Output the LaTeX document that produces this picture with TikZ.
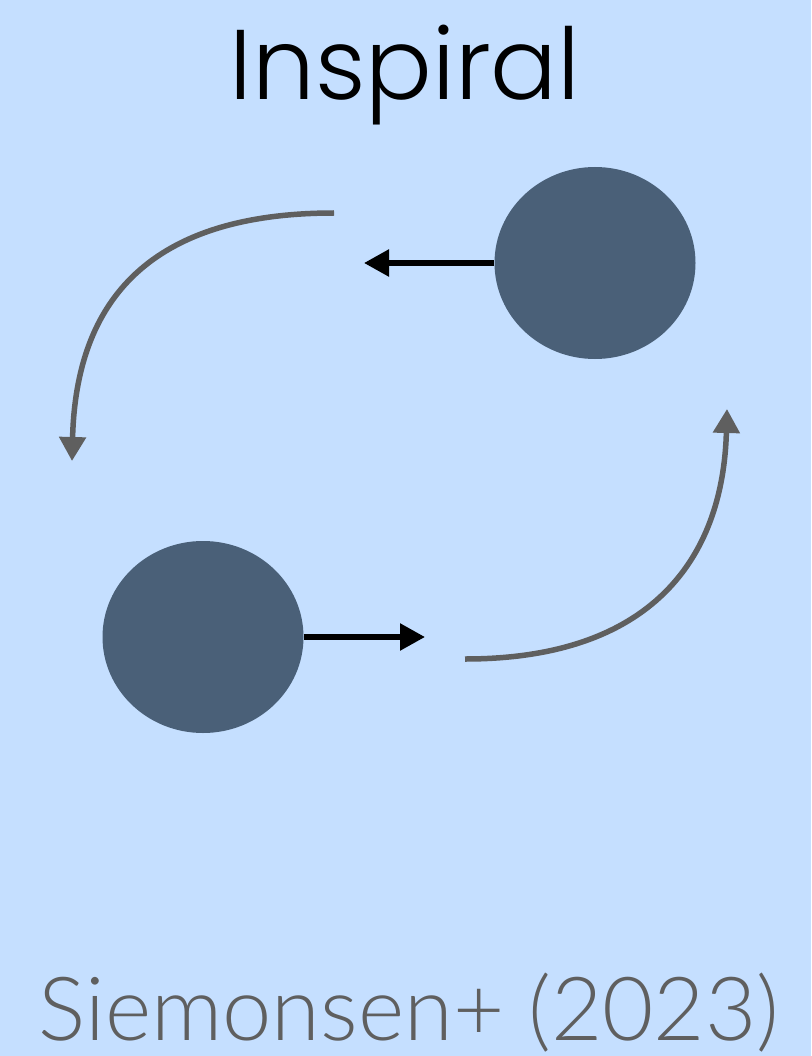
\documentclass[tikz,border=0pt]{standalone}
\usepackage{fontspec}
\setmainfont{Liberation Sans}
\newfontfamily\titlefont{Poppins Light}
\newfontfamily\citefont{Lato Light}
\usetikzlibrary{arrows.meta,shapes.geometric}
\definecolor{bg}{HTML}{C5DFFF}
\definecolor{bh}{HTML}{4A6078}
\definecolor{gr}{HTML}{5F5F5F}
\begin{document}
\begin{tikzpicture}[x=1pt,y=-1pt,
  bhole/.style={ellipse,fill=bh,draw=none,minimum width=201pt,minimum height=192pt,inner sep=0pt},
  vel/.style={line width=5.5pt,draw=black,-{Triangle[length=25pt,width=26pt]}},
  orbit/.style={line width=5.5pt,draw=gr,-{Triangle[length=24pt,width=26pt]}}]
\fill[bg] (0,0) rectangle (811,1056);
\useasboundingbox (0,0) rectangle (811,1056);
\node[bhole] (b1) at (595,263) {};
\node[bhole] (b2) at (203,637) {};
\coordinate (v1) at (364,263);
\coordinate (v2) at (425,637);
\draw[vel] (b1.west) -- (v1);
\draw[vel] (b2.east) -- (v2);
\coordinate (o1s) at (334,213);
\coordinate (o1e) at (72,461);
\coordinate (o2s) at (465,659);
\coordinate (o2e) at (727,409);
\draw[orbit] (o1s) .. controls (150,213) and (76,300) .. (o1e);
\draw[orbit] (o2s) .. controls (650,659) and (723,560) .. (o2e);
\node[text=black,anchor=base] (title) at (405,100) {\titlefont\fontsize{99}{99}\selectfont Inspiral};
\node[text=gr,anchor=base,inner sep=0pt] (cite) at (409,1040) {\citefont\fontsize{88.5}{88.5}\selectfont Siemonsen+ (2023)};
\end{tikzpicture}
\end{document}
